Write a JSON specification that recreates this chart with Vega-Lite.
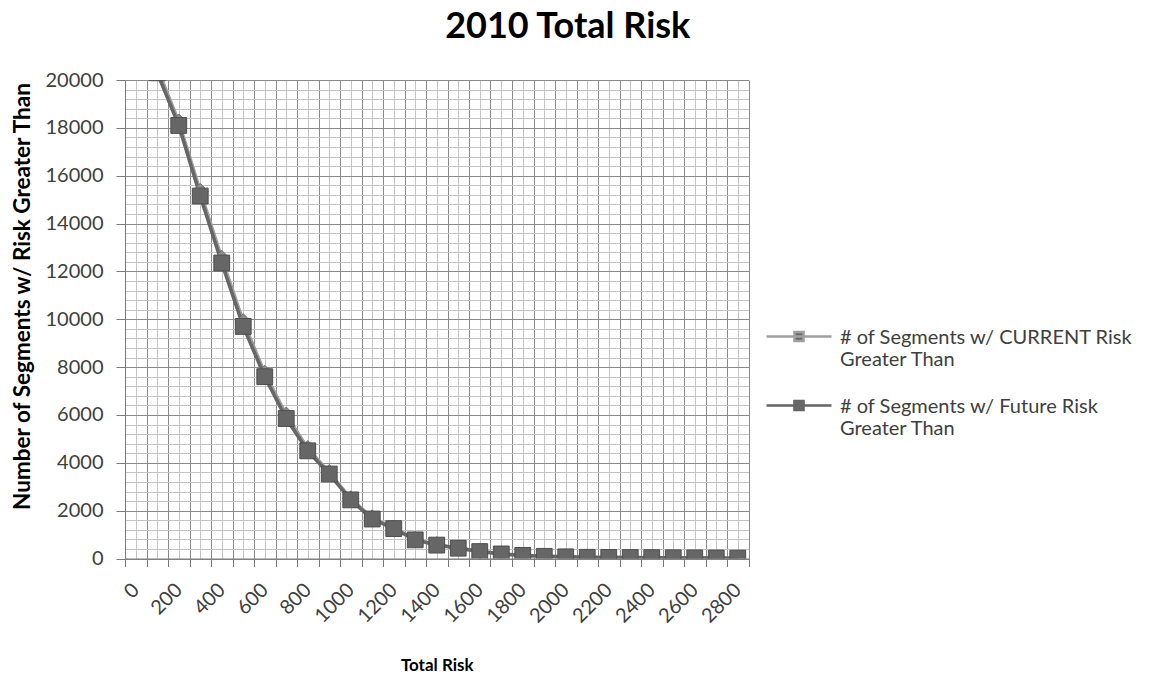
{
  "$schema": "https://vega.github.io/schema/vega-lite/v6.json",
  "width": 623.5,
  "height": 478.5,
  "autosize": {"type": "none"},
  "padding": {"left": 125, "top": 80, "right": 418.5, "bottom": 118.5},
  "background": "white",
  "config": {"view": {"stroke": null}, "font": "Lato"},
  "title": {"text": "2010 Total Risk", "font": "Lato", "fontSize": 36, "fontWeight": "bold", "color": "#000000", "anchor": "middle", "dx": 131, "offset": -4, "baseline": "alphabetic"},
  "data": {"values": [
    {"series": "# of Segments w/ CURRENT  Risk Greater Than", "risk": 100, "count": 20500},
    {"series": "# of Segments w/ CURRENT  Risk Greater Than", "risk": 200, "count": 18250},
    {"series": "# of Segments w/ CURRENT  Risk Greater Than", "risk": 300, "count": 15350},
    {"series": "# of Segments w/ CURRENT  Risk Greater Than", "risk": 400, "count": 12550},
    {"series": "# of Segments w/ CURRENT  Risk Greater Than", "risk": 500, "count": 9900},
    {"series": "# of Segments w/ CURRENT  Risk Greater Than", "risk": 600, "count": 7750},
    {"series": "# of Segments w/ CURRENT  Risk Greater Than", "risk": 700, "count": 6000},
    {"series": "# of Segments w/ CURRENT  Risk Greater Than", "risk": 800, "count": 4600},
    {"series": "# of Segments w/ CURRENT  Risk Greater Than", "risk": 900, "count": 3600},
    {"series": "# of Segments w/ CURRENT  Risk Greater Than", "risk": 1000, "count": 2500},
    {"series": "# of Segments w/ CURRENT  Risk Greater Than", "risk": 1100, "count": 1700},
    {"series": "# of Segments w/ CURRENT  Risk Greater Than", "risk": 1200, "count": 1280},
    {"series": "# of Segments w/ CURRENT  Risk Greater Than", "risk": 1300, "count": 800},
    {"series": "# of Segments w/ CURRENT  Risk Greater Than", "risk": 1400, "count": 580},
    {"series": "# of Segments w/ CURRENT  Risk Greater Than", "risk": 1500, "count": 440},
    {"series": "# of Segments w/ CURRENT  Risk Greater Than", "risk": 1600, "count": 300},
    {"series": "# of Segments w/ CURRENT  Risk Greater Than", "risk": 1700, "count": 200},
    {"series": "# of Segments w/ CURRENT  Risk Greater Than", "risk": 1800, "count": 135},
    {"series": "# of Segments w/ CURRENT  Risk Greater Than", "risk": 1900, "count": 95},
    {"series": "# of Segments w/ CURRENT  Risk Greater Than", "risk": 2000, "count": 72},
    {"series": "# of Segments w/ CURRENT  Risk Greater Than", "risk": 2100, "count": 52},
    {"series": "# of Segments w/ CURRENT  Risk Greater Than", "risk": 2200, "count": 46},
    {"series": "# of Segments w/ CURRENT  Risk Greater Than", "risk": 2300, "count": 40},
    {"series": "# of Segments w/ CURRENT  Risk Greater Than", "risk": 2400, "count": 35},
    {"series": "# of Segments w/ CURRENT  Risk Greater Than", "risk": 2500, "count": 30},
    {"series": "# of Segments w/ CURRENT  Risk Greater Than", "risk": 2600, "count": 25},
    {"series": "# of Segments w/ CURRENT  Risk Greater Than", "risk": 2700, "count": 20},
    {"series": "# of Segments w/ CURRENT  Risk Greater Than", "risk": 2800, "count": 15},
    {"series": "# of Segments w/ Future Risk Greater Than", "risk": 100, "count": 20300},
    {"series": "# of Segments w/ Future Risk Greater Than", "risk": 200, "count": 18100},
    {"series": "# of Segments w/ Future Risk Greater Than", "risk": 300, "count": 15150},
    {"series": "# of Segments w/ Future Risk Greater Than", "risk": 400, "count": 12350},
    {"series": "# of Segments w/ Future Risk Greater Than", "risk": 500, "count": 9700},
    {"series": "# of Segments w/ Future Risk Greater Than", "risk": 600, "count": 7600},
    {"series": "# of Segments w/ Future Risk Greater Than", "risk": 700, "count": 5850},
    {"series": "# of Segments w/ Future Risk Greater Than", "risk": 800, "count": 4500},
    {"series": "# of Segments w/ Future Risk Greater Than", "risk": 900, "count": 3530},
    {"series": "# of Segments w/ Future Risk Greater Than", "risk": 1000, "count": 2450},
    {"series": "# of Segments w/ Future Risk Greater Than", "risk": 1100, "count": 1650},
    {"series": "# of Segments w/ Future Risk Greater Than", "risk": 1200, "count": 1250},
    {"series": "# of Segments w/ Future Risk Greater Than", "risk": 1300, "count": 780},
    {"series": "# of Segments w/ Future Risk Greater Than", "risk": 1400, "count": 560},
    {"series": "# of Segments w/ Future Risk Greater Than", "risk": 1500, "count": 430},
    {"series": "# of Segments w/ Future Risk Greater Than", "risk": 1600, "count": 290},
    {"series": "# of Segments w/ Future Risk Greater Than", "risk": 1700, "count": 190},
    {"series": "# of Segments w/ Future Risk Greater Than", "risk": 1800, "count": 130},
    {"series": "# of Segments w/ Future Risk Greater Than", "risk": 1900, "count": 90},
    {"series": "# of Segments w/ Future Risk Greater Than", "risk": 2000, "count": 70},
    {"series": "# of Segments w/ Future Risk Greater Than", "risk": 2100, "count": 50},
    {"series": "# of Segments w/ Future Risk Greater Than", "risk": 2200, "count": 45},
    {"series": "# of Segments w/ Future Risk Greater Than", "risk": 2300, "count": 40},
    {"series": "# of Segments w/ Future Risk Greater Than", "risk": 2400, "count": 35},
    {"series": "# of Segments w/ Future Risk Greater Than", "risk": 2500, "count": 30},
    {"series": "# of Segments w/ Future Risk Greater Than", "risk": 2600, "count": 25},
    {"series": "# of Segments w/ Future Risk Greater Than", "risk": 2700, "count": 20},
    {"series": "# of Segments w/ Future Risk Greater Than", "risk": 2800, "count": 15}
  ]},
  "layer": [
    {
      "mark": {"type": "line", "clip": true, "strokeWidth": 3.5},
      "encoding": {
        "x": {"field": "risk", "type": "quantitative",
          "scale": {"domain": [-50, 2850], "nice": false, "zero": false},
          "axis": {"orient": "bottom", "values": [0,100,200,300,400,500,600,700,800,900,1000,1100,1200,1300,1400,1500,1600,1700,1800,1900,2000,2100,2200,2300,2400,2500,2600,2700,2800],
            "grid": true, "gridColor": "#c4c4c4", "gridWidth": 1, "labels": false, "ticks": false, "domain": false, "title": null}},
        "y": {"field": "count", "type": "quantitative",
          "scale": {"domain": [0, 20000], "nice": false, "zero": true},
          "axis": {"orient": "left", "values": [0,400,800,1200,1600,2000,2400,2800,3200,3600,4000,4400,4800,5200,5600,6000,6400,6800,7200,7600,8000,8400,8800,9200,9600,10000,10400,10800,11200,11600,12000,12400,12800,13200,13600,14000,14400,14800,15200,15600,16000,16400,16800,17200,17600,18000,18400,18800,19200,19600,20000],
            "grid": true, "gridColor": "#c4c4c4", "gridWidth": 1, "labels": false, "ticks": false, "domain": false, "title": null}},
        "color": {"field": "series", "type": "nominal",
          "scale": {"domain": ["# of Segments w/ CURRENT  Risk Greater Than", "# of Segments w/ Future Risk Greater Than"], "range": ["#a0a0a0", "#666666"]},
          "legend": {"orient": "none", "legendX": 640, "legendY": 229.5, "title": null, "padding": 0,
            "labelExpr": "[replace(datum.label, ' Greater Than', ''), 'Greater Than']",
            "labelFont": "Lato", "labelFontSize": 20, "labelColor": "#404040", "labelLimit": 500, "labelOffset": 7, "labelBaseline": "alphabetic",
            "symbolType": "M-1,-0.215H1M-0.14,-0.355H0.14V-0.075H-0.14Z", "symbolSize": 4225, "symbolStrokeWidth": 2.5,
            "symbolFillColor": "#6a6a6a", "rowPadding": 9}}
      }
    },
    {
      "transform": [{"filter": "indexof(datum.series, 'CURRENT') >= 0"}],
      "mark": {"type": "point", "shape": "diamond", "clip": true, "filled": true, "size": 250, "opacity": 1, "color": "#8c8c8c", "stroke": "#707070", "strokeWidth": 1},
      "encoding": {
        "x": {"field": "risk", "type": "quantitative", "axis": null},
        "y": {"field": "count", "type": "quantitative", "axis": null}
      }
    },
    {
      "transform": [{"filter": "indexof(datum.series, 'Future') >= 0"}],
      "mark": {"type": "point", "shape": "square", "clip": true, "filled": true, "size": 250, "opacity": 1, "color": "#666666", "stroke": "#4e4e4e", "strokeWidth": 1},
      "encoding": {
        "x": {"field": "risk", "type": "quantitative",
          "axis": {"orient": "bottom", "values": [-50,50,150,250,350,450,550,650,750,850,950,1050,1150,1250,1350,1450,1550,1650,1750,1850,1950,2050,2150,2250,2350,2450,2550,2650,2750,2850],
            "grid": true, "gridColor": "#8a8a8a", "gridWidth": 1, "labels": false, "ticks": true, "tickSize": 8, "tickColor": "#7a7a7a", "domain": true, "domainColor": "#7a7a7a", "title": null}},
        "y": {"field": "count", "type": "quantitative",
          "axis": {"orient": "left", "values": [0,2000,4000,6000,8000,10000,12000,14000,16000,18000,20000], "format": "d",
            "grid": true, "gridColor": "#8a8a8a", "gridWidth": 1, "ticks": true, "tickSize": 9, "tickColor": "#7a7a7a", "domain": true, "domainColor": "#7a7a7a",
            "labelFont": "Lato", "labelFontSize": 20, "labelColor": "#404040", "labelPadding": 13,
            "title": "Number of Segments w/ Risk Greater Than", "titleFont": "Lato", "titleFontSize": 22.5, "titleFontWeight": "bold", "titleColor": "#000000",
            "titleX": -103, "titleY": 216, "titleAngle": 270, "titleBaseline": "middle", "titleAlign": "center"}}
      }
    },
    {
      "mark": {"type": "point", "clip": true, "filled": true, "fillOpacity": 0, "strokeOpacity": 0},
      "encoding": {
        "x": {"field": "risk", "type": "quantitative",
          "axis": {"orient": "bottom", "values": [0,200,400,600,800,1000,1200,1400,1600,1800,2000,2200,2400,2600,2800], "format": "d",
            "grid": false, "ticks": false, "domain": false, "labelOverlap": false, "labelBound": false, "labelFlush": false,
            "labelAngle": -45, "labelAlign": "right", "labelBaseline": "middle", "labelPadding": 28,
            "labelFont": "Lato", "labelFontSize": 20, "labelColor": "#404040",
            "title": "Total  Risk", "titleFont": "Lato", "titleFontSize": 17, "titleFontWeight": "bold", "titleColor": "#000000", "titleY": 106.5, "titleBaseline": "middle"}},
        "y": {"field": "count", "type": "quantitative", "axis": null}
      }
    }
  ],
  "resolve": {"axis": {"x": "independent", "y": "independent"}}
}
